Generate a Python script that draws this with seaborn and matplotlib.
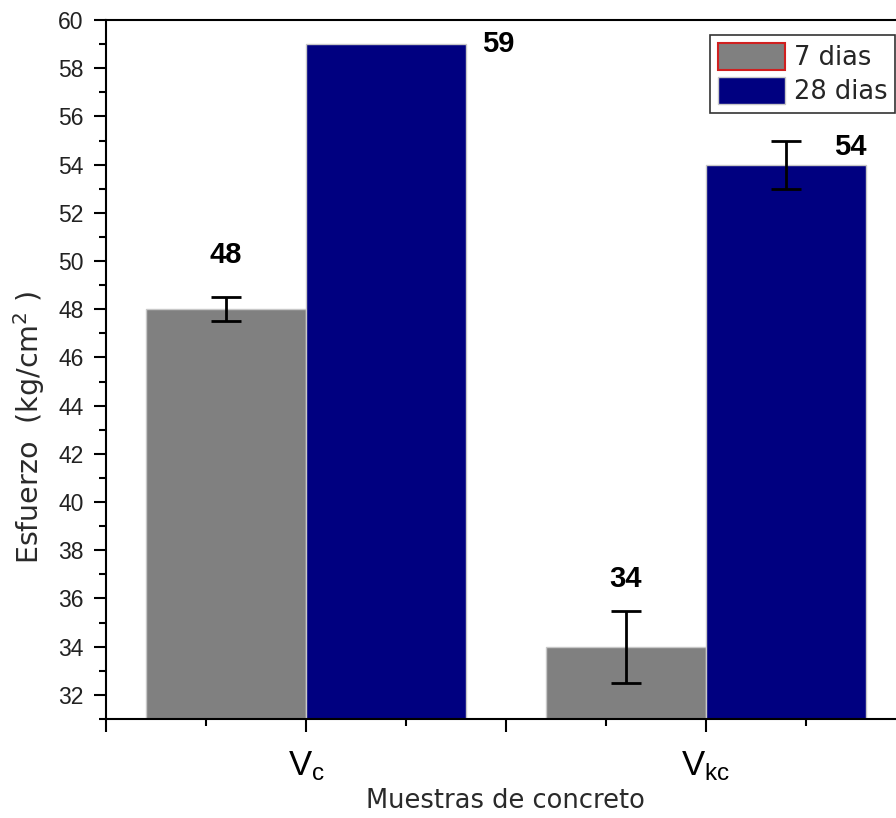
import matplotlib
matplotlib.use("Agg")
import matplotlib.pyplot as plt
from matplotlib.patches import Patch
from matplotlib.ticker import MultipleLocator, FixedLocator
import seaborn as sns
import pandas as pd

# Compressive strength of concrete samples at 7 and 28 days
muestras = ["Vc", "Vkc"]
edades = ["7 dias", "28 dias"]
esfuerzo_7 = [48, 34]
esfuerzo_28 = [59, 54]
error_7 = [0.5, 1.5]
error_28 = [0.0, 1.0]
tick_labels = [r"$\mathregular{V_c}$", r"$\mathregular{V_{kc}}$"]
colores = ["#808080", "#000080"]

df = pd.DataFrame({
    "muestra": muestras * 2,
    "edad": [edades[0]] * 2 + [edades[1]] * 2,
    "esfuerzo": esfuerzo_7 + esfuerzo_28,
    "error": error_7 + error_28,
})

sns.set_theme(style="white")
plt.rcParams["font.family"] = ["Liberation Sans", "DejaVu Sans"]
plt.rcParams["mathtext.fontset"] = "custom"
plt.rcParams["mathtext.rm"] = "Liberation Sans"
plt.rcParams["mathtext.it"] = "Liberation Sans:italic"
plt.rcParams["mathtext.bf"] = "Liberation Sans:bold"

W, H = 896, 818
fig = plt.figure(figsize=(W / 100, H / 100), dpi=100)
ax = fig.add_axes([106 / W, (H - 719) / H, (W - 106) / W, (719 - 20) / H])

sns.barplot(data=df, x="muestra", y="esfuerzo", hue="edad", order=muestras,
            hue_order=edades, palette=colores, width=0.8, errorbar=None,
            edgecolor="#c8c8c8", linewidth=1, saturation=1, ax=ax, legend=False)

# error bars and value labels, one per bar
label_offsets = {
    ("7 dias", 0): (0.0, 2.25), ("7 dias", 1): (0.0, 2.8),
    ("28 dias", 0): (0.28, 0.0), ("28 dias", 1): (0.16, 0.75),
}
for cont, edad in zip(ax.containers, edades):
    sub = df[df["edad"] == edad].set_index("muestra").loc[muestras]
    for i, (bar, val, err) in enumerate(zip(cont.patches, sub["esfuerzo"], sub["error"])):
        xc = bar.get_x() + bar.get_width() / 2
        if err > 0:
            ax.errorbar(xc, val, yerr=err, fmt="none", ecolor="black",
                        elinewidth=2, capsize=11, capthick=2, zorder=5)
        dx, dy = label_offsets[(edad, i)]
        ax.text(xc + dx, val + dy, f"{val:g}", ha="center", va="center",
                fontsize=21, fontweight="bold", color="black")

ax.set_xlim(-0.5, (W - 106) / 400 - 0.5)
ax.set_ylim(31, 60)

ax.yaxis.set_major_locator(MultipleLocator(2))
ax.yaxis.set_minor_locator(MultipleLocator(1))
ax.xaxis.set_major_locator(FixedLocator([-0.5, 0, 0.5, 1.0]))
ax.xaxis.set_minor_locator(FixedLocator([-0.25, 0.25, 0.75, 1.25]))
ax.set_xticklabels(["", tick_labels[0], "", tick_labels[1]])

ax.tick_params(axis="both", which="major", direction="out", length=9, width=1.5,
               color="black", bottom=True, left=True)
ax.tick_params(axis="both", which="minor", direction="out", length=5, width=1.5,
               color="black", bottom=True, left=True)
ax.tick_params(axis="y", which="major", labelsize=16.5, pad=7, labelcolor="#222222")
ax.tick_params(axis="x", which="major", labelsize=25, pad=13, labelcolor="black")

for side in ["left", "bottom", "top"]:
    ax.spines[side].set_visible(True)
    ax.spines[side].set_color("black")
    ax.spines[side].set_linewidth(1.5)
ax.spines["right"].set_visible(False)

ax.set_xlabel("")
ax.set_ylabel("")
wide = ["DejaVu Sans"]
fig.text(505 / W, 1 - 801 / H, "Muestras de concreto", ha="center", va="center",
         fontsize=18.5, color="#2a2a2a", family=wide)
fig.text(29 / W, 1 - 428 / H, r"Esfuerzo  (kg/cm$^\mathregular{2}$ )", ha="center",
         va="center", rotation=90, fontsize=20.5, color="#2a2a2a", family=wide)

handles = [Patch(facecolor=colores[0], edgecolor="#d02020", linewidth=1.5),
           Patch(facecolor=colores[1], edgecolor="#c8c8c8", linewidth=1)]
leg = ax.legend(handles, edades, loc="upper right",
                bbox_to_anchor=(1.0 - 1 / 790, 1 - 15 / 699),
                prop={"family": wide, "size": 18.5}, frameon=True, fancybox=False,
                borderpad=0.3, handlelength=2.6, handleheight=1.25,
                handletextpad=0.35, labelspacing=0.22, borderaxespad=0.0)
leg.get_frame().set_edgecolor("black")
leg.get_frame().set_linewidth(1.2)

fig.savefig("out.png", dpi=100)
